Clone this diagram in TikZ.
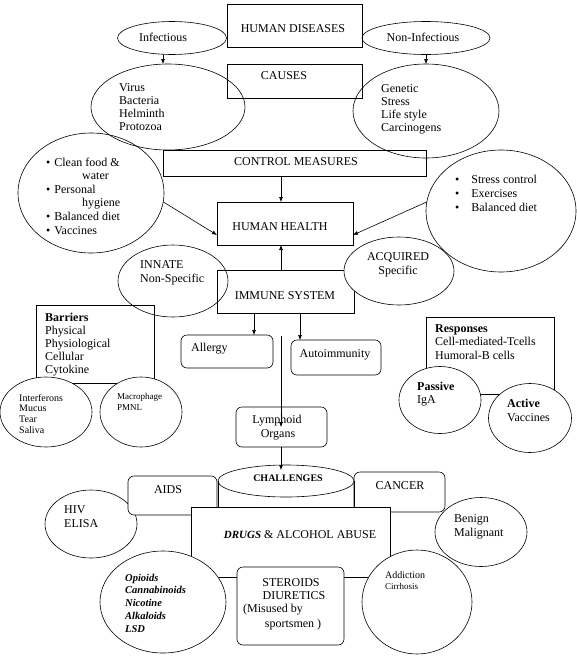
\documentclass[tikz,border=0pt]{standalone}
\usepackage{fontspec}
\setmainfont{Liberation Serif}
\usetikzlibrary{shapes.geometric,arrows.meta,calc}
\tikzset{
  shp/.style={draw=black, line width=0.6pt, inner sep=0pt, outer sep=0pt},
  box/.style={shp, rectangle},
  rbox/.style={shp, rectangle, rounded corners=6pt},
  ell/.style={shp, ellipse},
  wfill/.style={fill=white},
  txt/.style={inner sep=0pt, anchor=west, text height=8pt, text depth=0pt, font=\fontsize{12}{13}\selectfont},
  txtc/.style={txt, anchor=center},
  arr/.style={-{Latex[length=5pt,width=4pt]}, line width=0.6pt},
}
\newcommand\bx[6]{\node[#1, minimum width={#5-#3}, minimum height={#6-#4}] (#2) at ({(#3+#5)/2},{(#4+#6)/2}) {};}
\newcommand\el[6]{\node[#1, minimum width=#5, minimum height=#6] (#2) at (#3,#4) {};}
\newcommand\lst[6]{\foreach \t [count=\i from 0] in {#6} {\node[#1] (#2\i) at (#3, {#4+\i*#5}) {\t};}}
\begin{document}
\begin{tikzpicture}[x=1pt,y=-1pt]
\useasboundingbox (0,0) rectangle (577,659);
% ---------- top
\bx{box}{hd}{227}{4}{362}{47}
\el{ell}{inf}{172}{38}{109}{33}
\el{ell}{ninf}{426}{38}{128}{33}
\bx{box}{causes}{227}{64}{362}{98}
\el{ell}{lc}{168}{107}{154}{86}
\el{ell}{rc}{426}{111}{146}{94}
% ---------- control / health
\bx{box}{cm}{163}{150}{426}{176}
\el{ell}{lce}{91}{193}{146}{120}
\el{ell}{rce}{501}{211}{150}{122}
\bx{box}{hh}{217}{202}{353}{245}
% ---------- immune
\bx{box}{im}{217}{270}{354}{313}
\el{ell}{innate}{173}{281}{110}{72}
\el{ell,wfill}{acq}{399}{271}{110}{68}
\bx{box}{barr}{36}{305}{154}{383}
\el{ell,wfill}{intf}{46}{412}{92}{70}
\el{ell,wfill}{mac}{141}{412}{82}{70}
\bx{rbox}{allergy}{181}{335}{273}{368}
\bx{rbox}{autoimm}{291}{340}{381}{375}
\bx{rbox}{lymph}{236}{407}{327}{447}
\bx{box}{resp}{426}{317}{554}{394}
\el{ell,wfill}{passive}{440}{400}{82}{67}
\el{ell,wfill}{active}{530}{418}{83}{69}
% ---------- challenges
\el{ell}{hiv}{91}{524}{92}{68}
\bx{rbox,wfill}{aids}{128}{476}{217}{515}
\bx{rbox,wfill}{cancer}{354}{472}{445}{512}
\bx{box,wfill}{drugs}{191}{507}{390}{577}
\el{ell,wfill}{chal}{286}{481}{136}{32}
\draw[shp] (chal.west) -- (chal.west |- drugs.north);
\draw[shp] (chal.east) -- (chal.east |- drugs.north);
\el{ell,wfill}{opi}{163}{602}{126}{102}
\bx{rbox,wfill}{ster}{237}{567}{344}{645}
\el{ell,wfill}{addic}{417}{602}{110}{104}
\el{ell,wfill}{benign}{481}{532}{92}{69}
% ---------- texts
\node[txtc] (hdt) at (293,28) {HUMAN DISEASES};
\node[txtc] (inft) at (163,37) {Infectious};
\node[txtc] (ninft) at (423,37) {Non-Infectious};
\node[txtc] (causest) at (284,75) {CAUSES};
\lst{txt}{lct}{119}{87}{13.3}{Virus,Bacteria,Helminth,Protozoa}
\lst{txt}{rct}{381}{88}{13.3}{Genetic,Stress,Life style,Carcinogens}
\node[txtc] (cmt) at (296,161) {CONTROL MEASURES};
\lst{txt}{lcet}{46}{162}{13.6}{{\textbullet\hspace{4pt}Clean food \&},{\hspace*{36pt}water},{\textbullet\hspace{4pt}Personal},{\hspace*{36pt}hygiene},{\textbullet\hspace{4pt}Balanced diet},{\textbullet\hspace{4pt}Vaccines}}
\lst{txt}{rcet}{455}{179}{14}{{\textbullet\hspace{12pt}Stress control},{\textbullet\hspace{12pt}Exercises},{\textbullet\hspace{12pt}Balanced diet}}
\node[txtc] (hht) at (280,226) {HUMAN HEALTH};
\node[txtc] (imt) at (285,295) {IMMUNE SYSTEM};
\lst{txt}{innt}{140}{264}{14}{INNATE,Non-Specific}
\node[txtc] (acqt1) at (398,256) {ACQUIRED};
\node[txtc] (acqt2) at (398,270) {Specific};
\lst{txt}{barrt}{45}{317}{13}{{\bfseries Barriers},Physical,Physiological,Cellular,Cytokine}
\lst{txt,font=\fontsize{10}{11}\selectfont}{intft}{19}{397}{10.7}{Interferons,Mucus,Tear,Saliva}
\lst{txt,font=\fontsize{9}{10}\selectfont}{mact}{117}{395}{11}{Macrophage,PMNL}
\node[txt] (allt) at (191,347) {Allergy};
\node[txtc] (autt) at (335,353) {Autoimmunity};
\node[txtc] (lymt1) at (277,419) {Lymphoid};
\node[txtc] (lymt2) at (278,433) {Organs};
\lst{txt}{respt}{435}{328}{13.5}{{\bfseries Responses},Cell-mediated-Tcells,Humoral-B cells}
\lst{txt}{past}{417}{386}{13}{{\bfseries Passive},IgA}
\lst{txt}{actt}{507}{403}{14}{{\bfseries Active},Vaccines}
\node[txtc,font=\fontsize{10}{12}\selectfont\bfseries] (chalt) at (288,477) {CHALLENGES};
\node[txtc] (aidst) at (168,489) {AIDS};
\node[txtc] (cancert) at (400,485) {CANCER};
\node[txtc] (drugst) at (300,534) {{\fontsize{11}{13}\selectfont\bfseries\itshape DRUGS} \& ALCOHOL ABUSE};
\lst{txt}{hivt}{64}{509}{14}{HIV,ELISA}
\lst{txt,font=\fontsize{10.5}{12}\selectfont\bfseries\itshape}{opit}{125}{577}{12.75}{Opioids,Cannabinoids,Nicotine,Alkaloids,LSD}
\node[txtc] (stt1) at (291,582) {STEROIDS};
\node[txtc] (stt2) at (294,595) {DIURETICS};
\node[txtc] (stt3) at (273,608) {(Misused by};
\node[txtc] (stt4) at (293,623) {sportsmen )};
\node[txt,font=\fontsize{10}{11}\selectfont] (addt1) at (385,574) {Addiction};
\node[txt,font=\fontsize{9}{10}\selectfont] (addt2) at (385,585) {Cirrhosis};
\lst{txt}{bent}{454}{518}{14}{Benign,Malignant}
% ---------- connectors
\coordinate (colx) at (281,0);
\coordinate (colA) at (254,0);
\coordinate (colB) at (300,0);
\coordinate (colI) at (163,0);
\coordinate (lstart) at (281,336);
\draw[arr] (inf.south -| colI) -- (lc.north -| colI);
\draw[arr] (ninf.south) -- (rc.north);
\draw[arr] (cm.south -| colx) -- (hh.north -| colx);
\draw[arr] (lce.-7) -- ($(hh.west)+(0,11.5)$);
\draw[arr] (rce.173) -- ($(hh.east)+(0,11.5)$);
\draw[arr] (im.north -| colx) -- (hh.south -| colx);
\draw[arr] (im.south -| colA) -- (allergy.north -| colA);
\draw[arr] (im.south -| colB) -- (autoimm.north -| colB);
\draw[arr] (lstart) -- (lymph.center -| colx);
\draw[arr] (lymph.south -| colx) -- ($(chal.north -| colx)+(0,5)$);
\end{tikzpicture}
\end{document}
